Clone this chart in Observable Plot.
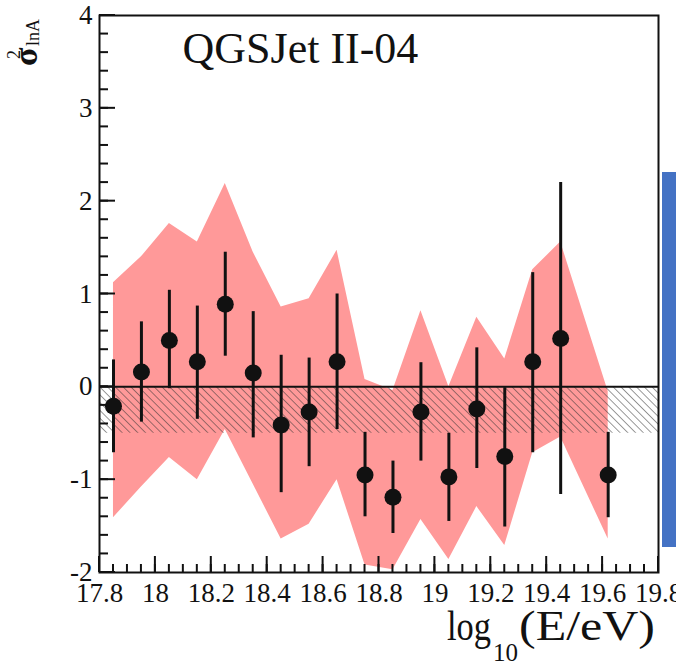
<!DOCTYPE html>
<html>
<head>
<meta charset="utf-8">
<script src="https://cdn.jsdelivr.net/npm/d3@7"></script>
<script src="https://cdn.jsdelivr.net/npm/@observablehq/plot@0.6"></script>
<style>
  html, body { margin: 0; padding: 0; background: #fff; }
  #wrap { position: relative; width: 676px; height: 663px; overflow: hidden; background: #fff; }
  #side { position: absolute; left: 662px; top: 172px; width: 14px; height: 375px; background: #4472c4; }
  #chart svg { display: block; }
</style>
</head>
<body>
<svg width="0" height="0" style="position:absolute">
  <defs>
    <pattern id="hatch" width="5.5" height="5.5" patternUnits="userSpaceOnUse" patternTransform="rotate(-45)">
      <line x1="0" y1="0" x2="0" y2="5.5" stroke="#333" stroke-width="1"></line>
    </pattern>
  </defs>
</svg>
<div id="wrap"><div id="chart"></div><div id="side"></div></div>
<script>
// ---- data ----
const title = "QGSJet II-04";
const xTicks = [17.8, 18, 18.2, 18.4, 18.6, 18.8, 19, 19.2, 19.4, 19.6, 19.8];
const yTicks = [-2, -1, 0, 1, 2, 3, 4];
const binCenter = [17.85, 17.95, 18.05, 18.15, 18.25, 18.35, 18.45, 18.55, 18.65, 18.75, 18.85, 18.95, 19.05, 19.15, 19.25, 19.35, 19.45, 19.62];
const sigma2   = [-0.21, 0.16, 0.50, 0.27, 0.89, 0.15, -0.41, -0.27, 0.27, -0.95, -1.19, -0.27, -0.97, -0.24, -0.75, 0.27, 0.52, -0.95];
const errHigh  = [0.29, 0.70, 1.04, 0.87, 1.45, 0.81, 0.34, 0.31, 1.00, -0.49, -0.80, 0.26, -0.50, 0.42, -0.01, 1.23, 2.20, -0.49];
const errLow   = [-0.71, -0.38, -0.02, -0.35, 0.33, -0.55, -1.14, -0.86, -0.46, -1.40, -1.58, -0.80, -1.45, -0.88, -1.51, -0.71, -1.16, -1.41];
const bandUpper = [1.12, 1.40, 1.76, 1.56, 2.19, 1.45, 0.86, 0.95, 1.47, 0.08, -0.04, 0.82, 0.00, 0.75, 0.30, 1.26, 1.56, -0.05];
const bandLower = [-1.41, -1.08, -0.76, -1.00, -0.46, -1.05, -1.64, -1.48, -1.00, -1.92, -1.97, -1.43, -1.86, -1.29, -1.71, -0.71, -0.54, -1.64];
const hatchBand = [0, -0.5];   // hatched (unphysical) region
const zeroLine = [0];

// ---- layout ----
const W = 676, H = 663, mL = 99, mR = 18, mT = 15, mB = 91;
const majorLen = 16, minorLenX = 8, minorLenY = 9;

// ---- derived tables ----
const xDomain = [xTicks[0], xTicks[xTicks.length - 1]];
const yDomain = [yTicks[0], yTicks[yTicks.length - 1]];
const xMinor = d3.range(0, 41).map(i => +(xDomain[0] + i * 0.05).toFixed(2));
const yMinor = d3.range(0, 31).map(i => +(yDomain[0] + i * 0.2).toFixed(1));
const points = binCenter.map((x, i) => ({x, y: sigma2[i], lo: errLow[i], hi: errHigh[i]}));
const band = binCenter.map((x, i) => ({x, lo: bandLower[i], hi: bandUpper[i]}));
const hatch = [{x1: xDomain[0], x2: xDomain[1], y1: hatchBand[0], y2: hatchBand[1]}];

const fontFamily = "'Liberation Serif', 'Times New Roman', serif";
const ink = "#111";

const chart = Plot.plot({
  width: W,
  height: H,
  marginLeft: mL,
  marginRight: mR,
  marginTop: mT,
  marginBottom: mB,
  x: {domain: xDomain},
  y: {domain: yDomain},
  style: {fontFamily, fontSize: "27px", color: ink, background: "transparent"},
  marks: [
    Plot.areaY(band, {x: "x", y1: "lo", y2: "hi", fill: "#ff9999", curve: "linear"}),
    Plot.rect(hatch, {x1: "x1", x2: "x2", y1: "y1", y2: "y2", fill: "url(#hatch)"}),
    Plot.ruleY(zeroLine, {stroke: ink, strokeWidth: 2}),
    Plot.ruleX(points, {x: "x", y1: "lo", y2: "hi", stroke: ink, strokeWidth: 3}),
    Plot.dot(points, {x: "x", y: "y", r: 8.5, fill: ink, stroke: null}),
    Plot.axisX(xTicks, {tickSize: 0, tickPadding: 10, tickFormat: d => String(d), label: null, fontSize: 27}),
    Plot.axisY(yTicks, {tickSize: 0, tickPadding: 7, tickFormat: d => String(d), label: null, fontSize: 27}),
    Plot.frame({stroke: ink, strokeWidth: 2}),
    Plot.text([title], {frameAnchor: "top-left", dx: 83, dy: 16, textAnchor: "start", lineAnchor: "top", fontSize: 44, fill: ink})
  ]
});
document.getElementById("chart").appendChild(chart);

const svg = d3.select(chart);

// inward ROOT-style ticks, positioned through the plot's own scales
const sx = chart.scale("x"), sy = chart.scale("y");
const x0 = sx.apply(xDomain[0]), yB = sy.apply(yDomain[0]);
const tg = svg.append("g").attr("stroke", ink).attr("stroke-width", 2);
const xTickList = [...xTicks.map(v => [v, majorLen]), ...xMinor.map(v => [v, minorLenX])];
const yTickList = [...yTicks.map(v => [v, majorLen]), ...yMinor.map(v => [v, minorLenY])];
tg.selectAll("line.xt").data(xTickList).join("line").attr("class", "xt")
  .attr("x1", d => sx.apply(d[0])).attr("x2", d => sx.apply(d[0]))
  .attr("y1", yB).attr("y2", d => yB - d[1]);
tg.selectAll("line.yt").data(yTickList).join("line").attr("class", "yt")
  .attr("y1", d => sy.apply(d[0])).attr("y2", d => sy.apply(d[0]))
  .attr("x1", x0).attr("x2", d => x0 + d[1]);

// axis titles with sub/superscripts
const xt = svg.append("g").attr("font-family", fontFamily).attr("fill", ink).attr("text-anchor", "start");
xt.append("text").attr("x", 447).attr("y", 640).attr("font-size", 42)
  .attr("textLength", 44).attr("lengthAdjust", "spacingAndGlyphs").text("log");
xt.append("text").attr("x", 493).attr("y", 661).attr("font-size", 25).text("10");
xt.append("text").attr("x", 519).attr("y", 640).attr("font-size", 42)
  .attr("textLength", 136).attr("lengthAdjust", "spacingAndGlyphs").text("(E/eV)");

const yt = svg.append("g").attr("transform", "translate(37,66) rotate(-90)")
  .attr("font-family", fontFamily).attr("fill", ink).attr("text-anchor", "start");
yt.append("text").attr("x", 0).attr("y", 0).attr("font-size", 34).attr("font-weight", "bold").text("σ");
yt.append("text").attr("x", 7).attr("y", -17).attr("font-size", 18).text("2");
yt.append("text").attr("x", 20).attr("y", 2).attr("font-size", 18).text("lnA");
</script>
</body>
</html>
